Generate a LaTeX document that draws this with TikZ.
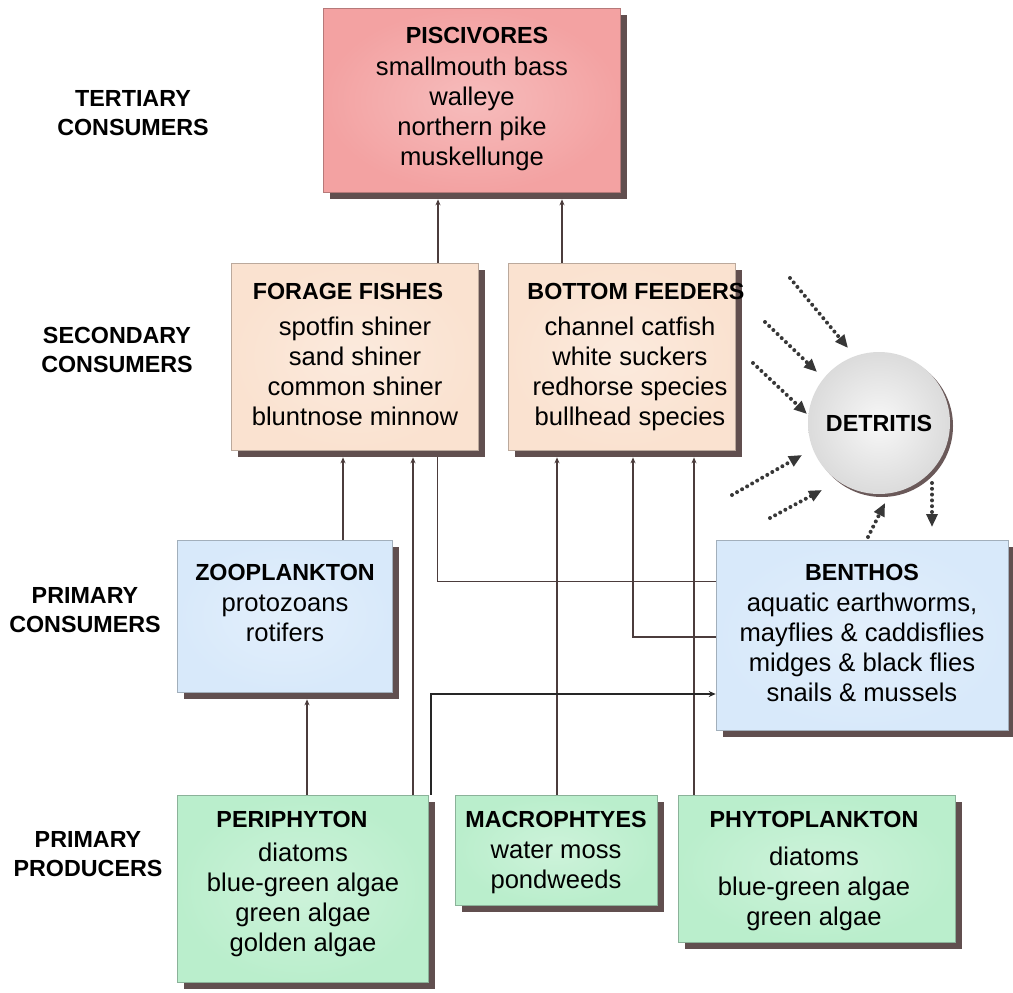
\documentclass[tikz,border=0pt]{standalone}
\usepackage{fontspec}
\setmainfont{Liberation Sans}
\usetikzlibrary{arrows.meta,shadows,calc}
\definecolor{cPisc}{RGB}{243,162,162}
\definecolor{cFish}{RGB}{250,226,208}
\definecolor{cCons}{RGB}{216,233,250}
\definecolor{cProd}{RGB}{186,238,204}
\definecolor{cShadow}{RGB}{80,60,60}
\definecolor{cLine}{RGB}{75,60,60}
\definecolor{cDot}{RGB}{55,55,55}
\newcommand\boxtitle[1]{{\fontsize{23.3}{30}\selectfont\bfseries #1}}
\begin{document}
\begin{tikzpicture}[x=1pt,y=-1pt,
  box/.style={draw=#1!75!black, line width=0.6pt, inner sep=0pt,
    shade, inner color=#1!72!white, outer color=#1,
    drop shadow={shadow xshift=7pt, shadow yshift=-7pt, fill=cShadow, opacity=0.9}},
  txt/.style={align=center, inner sep=0pt, anchor=north, font=\fontsize{25.6}{30}\selectfont},
  lbl/.style={align=center, inner sep=0pt, font=\fontsize{23.3}{28.5}\selectfont\bfseries},
  conn/.style={draw=cLine, line width=1.4pt, -{Stealth[length=6pt,width=5pt]}},
  plain/.style={draw=cLine, line width=0.9pt},
  thick/.style={draw=black!85, line width=2.6pt, -{Stealth[length=7pt,width=6pt]}},
  dots/.style={draw=cDot, line width=4pt, dash pattern=on 0pt off 5.8pt, line cap=round,
    -{Triangle[length=13pt,width=11pt]}}]
\useasboundingbox (0,0) rectangle (1013,993);

% row labels
\node[lbl] (lT) at (133,113) {TERTIARY\\CONSUMERS};
\node[lbl] (lS) at (117,350) {SECONDARY\\CONSUMERS};
\node[lbl] (lP) at (85,610) {PRIMARY\\CONSUMERS};
\node[lbl] (lR) at (88,854) {PRIMARY\\PRODUCERS};

% boxes
\node[box=cPisc, minimum width=297pt, minimum height=184pt] (pisc) at (471.5,100) {};
\node[box=cFish, minimum width=247pt, minimum height=187pt] (forage) at (354.5,356.5) {};
\node[box=cFish, minimum width=227pt, minimum height=187pt] (bottom) at (621.5,356.5) {};
\node[box=cCons, minimum width=215pt, minimum height=152pt] (zoo) at (284.5,616) {};
\node[box=cCons, minimum width=292pt, minimum height=190pt] (benthos) at (862,635) {};
\node[box=cProd, minimum width=251pt, minimum height=187pt] (peri) at (302.5,888.5) {};
\node[box=cProd, minimum width=202pt, minimum height=110pt] (macro) at (556,850) {};
\node[box=cProd, minimum width=277pt, minimum height=147pt] (phyto) at (816.5,868.5) {};

% box texts
\node[txt] (piscT) at (472,27.5) {\hspace*{10pt}\boxtitle{PISCIVORES}\\[1.7pt]smallmouth bass\\walleye\\northern pike\\muskellunge};
\node[txt] (forageT) at (355,283.5) {\boxtitle{FORAGE FISHES}\hspace*{14pt}\\[5.7pt]spotfin shiner\\sand shiner\\common shiner\\bluntnose minnow};
\node[txt] (bottomT) at (630,283.5) {\hspace*{12pt}\boxtitle{BOTTOM FEEDERS}\\[5.7pt]channel catfish\\white suckers\\redhorse species\\bullhead species};
\node[txt] (zooT) at (285,564.5) {\boxtitle{ZOOPLANKTON}\\[0.7pt]protozoans\\rotifers};
\node[txt] (benthosT) at (862,564.5) {\boxtitle{BENTHOS}\\[0.7pt]aquatic earthworms,\\mayflies \& caddisflies\\midges \& black flies\\snails \& mussels};
\node[txt] (periT) at (303,811.5) {\boxtitle{PERIPHYTON}\hspace*{22pt}\\[3.7pt]diatoms\\blue-green algae\\green algae\\golden algae};
\node[txt] (macroT) at (556,811.5) {\boxtitle{MACROPHTYES}\\[0.7pt]water moss\\pondweeds};
\node[txt] (phytoT) at (814,811.5) {\boxtitle{PHYTOPLANKTON}\\[7.7pt]diatoms\\blue-green algae\\green algae};

% detritus
\node[circle, minimum size=142pt, inner sep=0pt, shade, inner color=gray!6, outer color=gray!28,
  drop shadow={shadow xshift=3pt, shadow yshift=-3pt, fill=cShadow, opacity=0.85},
  font=\fontsize{23.3}{28}\selectfont\bfseries] (det) at (879,423) {DETRITIS};

% x / y guide coordinates
\coordinate (xA) at (438,0);
\coordinate (xB) at (562,0);
\coordinate (xC) at (343,0);
\coordinate (xD) at (413,0);
\coordinate (xE) at (437,0);
\coordinate (xF) at (557,0);
\coordinate (xG) at (633,0);
\coordinate (xH) at (694,0);
\coordinate (xI) at (431,0);
\coordinate (xJ) at (307,0);
\coordinate (yE) at (0,581);
\coordinate (yG) at (0,637);
\coordinate (yI) at (0,694);

% connectors
\draw[conn] (forage.north -| xA) -- ($(pisc.south -| xA)+(0,7)$);
\draw[conn] (bottom.north -| xB) -- ($(pisc.south -| xB)+(0,7)$);
\draw[conn] (zoo.north -| xC) -- ($(forage.south -| xC)+(0,7)$);
\draw[conn] (peri.north -| xD) -- ($(forage.south -| xD)+(0,7)$);
\draw[plain] (benthos.west |- yE) -| ($(forage.south -| xE)+(0,7)$);
\draw[conn] (macro.north -| xF) -- ($(bottom.south -| xF)+(0,7)$);
\draw[conn] (benthos.west |- yG) -| ($(bottom.south -| xG)+(0,7)$);
\draw[conn] (phyto.north -| xH) -- ($(bottom.south -| xH)+(0,7)$);
\draw[thick] (peri.north -| xI) |- (benthos.west |- yI);
\draw[conn] (peri.north -| xJ) -- ($(zoo.south -| xJ)+(0,7)$);

% dotted flows to / from detritus
\coordinate (d1s) at (790,278); \coordinate (d1e) at (848,348);
\coordinate (d2s) at (765,322); \coordinate (d2e) at (817,372);
\coordinate (d3s) at (753,363); \coordinate (d3e) at (807,414);
\coordinate (d4s) at (732,495); \coordinate (d4e) at (802,455);
\coordinate (d5s) at (770,518); \coordinate (d5e) at (822,490);
\coordinate (d6s) at (868,537); \coordinate (d6e) at (885,503);
\coordinate (d7s) at (932,483); \coordinate (d7e) at (932,527);
\draw[dots] (d1s) -- (d1e);
\draw[dots] (d2s) -- (d2e);
\draw[dots] (d3s) -- (d3e);
\draw[dots] (d4s) -- (d4e);
\draw[dots] (d5s) -- (d5e);
\draw[dots] (d6s) -- (d6e);
\draw[dots] (d7s) -- (d7e);
\end{tikzpicture}
\end{document}
